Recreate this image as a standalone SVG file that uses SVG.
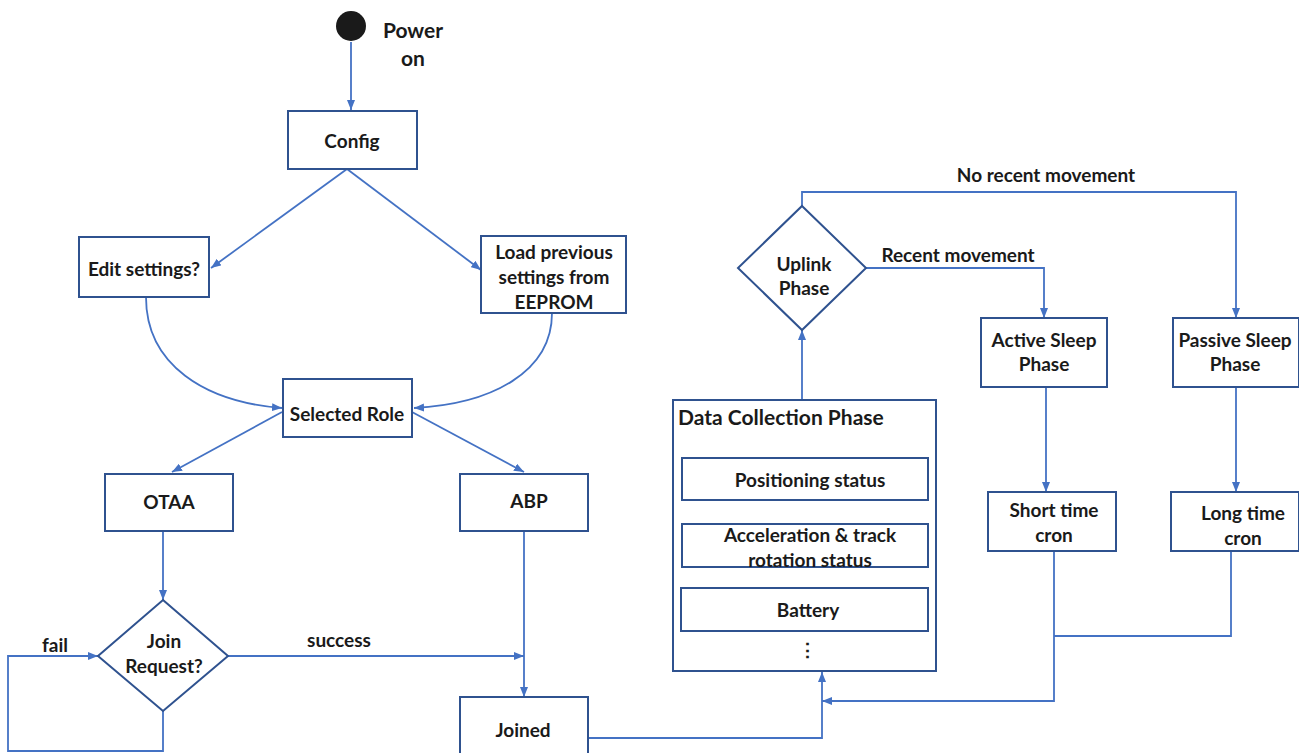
<svg xmlns="http://www.w3.org/2000/svg" width="1299" height="753" viewBox="0 0 1299 753">
<defs>
<marker id="ah" markerWidth="10" markerHeight="8" refX="10" refY="4" orient="auto" markerUnits="userSpaceOnUse">
<path d="M0,0 L10,4 L0,8 z" fill="#4472C4"/>
</marker>
<style>
.box{fill:#fff;stroke:#2F528F;stroke-width:2}
.ln{fill:none;stroke:#4472C4;stroke-width:1.8}
.ar{marker-end:url(#ah)}
text{font-family:Lato,"Open Sans","Liberation Sans",sans-serif;font-weight:bold;font-size:19px;fill:#1a1a1a}
.c{text-anchor:middle}
</style>
</defs>
<rect width="1299" height="753" fill="#fff"/>
<g id="connectors">
<path class="ln ar" d="M351,42 L351,110"/>
<path class="ln ar" d="M347,169 L211,268"/>
<path class="ln ar" d="M347,169 L481,270"/>
<path class="ln ar" d="M146,297 C146,365 205,402 282,408"/>
<path class="ln ar" d="M552,313 C552,372 492,404 414,408"/>
<path class="ln ar" d="M282,412 L172,472"/>
<path class="ln ar" d="M412,412 L524,472"/>
<path class="ln ar" d="M163,531 L163,600"/>
<path class="ln ar" d="M163,711 L163,751 L8,751 L8,656 L98,656"/>
<path class="ln ar" d="M228,656 L524,656"/>
<path class="ln ar" d="M524,531 L524,697"/>
<path class="ln ar" d="M588,738 L822,738 L822,672"/>
<path class="ln ar" d="M1054,551 L1054,701 L822,701"/>
<path class="ln" d="M1231,551 L1231,636 L1054,636"/>
<path class="ln ar" d="M802,400 L802,330"/>
<path class="ln ar" d="M802,206 L802,192 L1236,192 L1236,318"/>
<path class="ln ar" d="M866,268 L1044,268 L1044,318"/>
<path class="ln ar" d="M1046,387 L1046,492"/>
<path class="ln ar" d="M1236,387 L1236,492"/>
<text x="1046" y="182" class="c">No recent movement</text>
<text x="958" y="262" class="c">Recent movement</text>
<text x="339" y="647" class="c">success</text>
<text x="55" y="652" class="c">fail</text>
</g>
<g id="power-on">
<circle cx="351" cy="26" r="15" fill="#1a1a1a"/>
<text x="413" y="38" class="c" style="font-size:21px">Power</text>
<text x="413" y="66" class="c" style="font-size:21px">on</text>
</g>
<g id="config">
<rect class="box" x="288" y="111" width="129" height="58"/>
<text x="352" y="148" class="c">Config</text>
</g>
<g id="edit-settings">
<rect class="box" x="79" y="237" width="130" height="60"/>
<text x="144" y="276" class="c">Edit settings?</text>
</g>
<g id="load-previous">
<rect class="box" x="481" y="236" width="145" height="77"/>
<text x="554" y="259" class="c">Load previous</text>
<text x="554" y="284" class="c">settings from</text>
<text x="554" y="309" class="c">EEPROM</text>
</g>
<g id="selected-role">
<rect class="box" x="283" y="379" width="129" height="58"/>
<text x="347" y="421" class="c">Selected Role</text>
</g>
<g id="otaa">
<rect class="box" x="105" y="474" width="128" height="57"/>
<text x="169" y="509" class="c">OTAA</text>
</g>
<g id="abp">
<rect class="box" x="460" y="474" width="128" height="57"/>
<text x="529" y="508" class="c">ABP</text>
</g>
<g id="join-request">
<path class="box" d="M163,600 L228,656 L163,711 L98,656 z"/>
<text x="164" y="648" class="c">Join</text>
<text x="164" y="673" class="c">Request?</text>
</g>
<g id="joined">
<rect class="box" x="460" y="697" width="128" height="62"/>
<text x="523" y="737" class="c">Joined</text>
</g>
<g id="data-collection">
<rect class="box" x="673" y="400" width="263" height="271"/>
<text x="678" y="425" style="font-size:21px">Data Collection Phase</text>
<rect class="box" x="682" y="458" width="246" height="42"/>
<text x="810" y="487" class="c">Positioning status</text>
<rect class="box" x="682" y="524" width="246" height="43"/>
<text x="810" y="542" class="c">Acceleration &amp; track</text>
<text x="810" y="567" class="c">rotation status</text>
<rect class="box" x="681" y="588" width="247" height="43"/>
<text x="808" y="617" class="c">Battery</text>
<text x="807" y="657" class="c">⋮</text>
</g>
<g id="uplink">
<path class="box" d="M802,206 L866,268 L802,330 L738,268 z"/>
<text x="804" y="271" class="c">Uplink</text>
<text x="804" y="295" class="c">Phase</text>
</g>
<g id="active-sleep">
<rect class="box" x="981" y="318" width="126" height="69"/>
<text x="1044" y="347" class="c">Active Sleep</text>
<text x="1044" y="371" class="c">Phase</text>
</g>
<g id="passive-sleep">
<rect class="box" x="1173" y="318" width="126" height="69"/>
<text x="1235" y="347" class="c">Passive Sleep</text>
<text x="1235" y="371" class="c">Phase</text>
</g>
<g id="short-cron">
<rect class="box" x="988" y="492" width="128" height="59"/>
<text x="1054" y="517" class="c">Short time</text>
<text x="1054" y="542" class="c">cron</text>
</g>
<g id="long-cron">
<rect class="box" x="1171" y="492" width="128" height="59"/>
<text x="1243" y="520" class="c">Long time</text>
<text x="1243" y="545" class="c">cron</text>
</g>
</svg>
